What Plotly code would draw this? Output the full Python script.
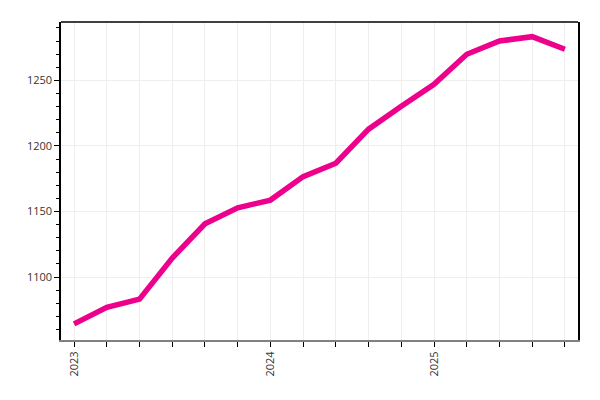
import plotly.graph_objects as go

x_index = list(range(16))
x_labels = ["2023", "", "", "", "", "", "2024", "", "", "", "", "2025", "", "", "", ""]
values = [1064.3, 1077.0, 1083.2, 1114.5, 1140.6, 1152.8, 1158.7, 1176.6,
          1186.8, 1212.8, 1230.2, 1247.0, 1269.9, 1280.0, 1283.3, 1273.7]
y_tick_vals = [1100, 1150, 1200, 1250]

fig = go.Figure(go.Scatter(
    x=x_index, y=values, mode="lines",
    line=dict(color="#EC008C", width=5.5),
    hoverinfo="skip",
))

fig.update_layout(
    width=600, height=400,
    margin=dict(l=53, r=30, t=14, b=68),
    paper_bgcolor="white", plot_bgcolor="white",
    showlegend=False,
    font=dict(family="Open Sans", size=11, color="#333"),
    shapes=[dict(type="line", xref="paper", yref="paper", x0=0, x1=1, y0=1, y1=1,
                 line=dict(color="black", width=1.5))],
)
fig.update_xaxes(
    range=[-0.4, 15.4], tickmode="array", tickvals=x_index, ticktext=x_labels,
    tickangle=-90, ticks="outside", ticklen=5, tickcolor="black", tickwidth=1,
    showgrid=True, gridcolor="#eeeeee", gridwidth=1, automargin=False,
    showline=True, linecolor="#808080", linewidth=2, zeroline=False,
)
fig.update_yaxes(
    range=[1052, 1294.5], tickmode="array", tickvals=y_tick_vals,
    ticks="outside", ticklen=5, tickcolor="black", tickwidth=1,
    minor=dict(dtick=10, ticks="outside", ticklen=3, tickcolor="black", showgrid=False),
    showgrid=True, gridcolor="#eeeeee", gridwidth=1, automargin=False,
    showline=True, linecolor="black", linewidth=1.5, mirror=True, zeroline=False,
)

fig.write_html("out.html")
